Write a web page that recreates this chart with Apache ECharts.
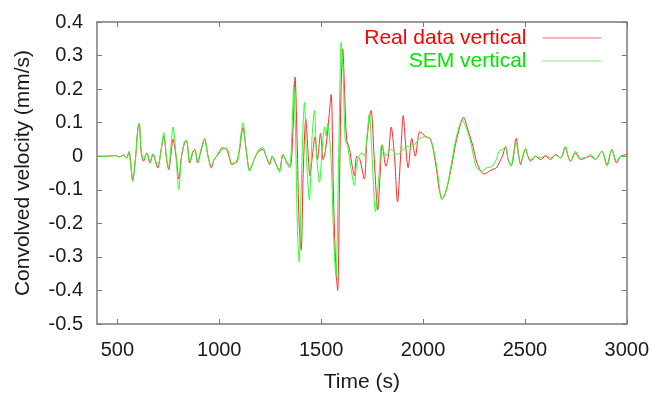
<!DOCTYPE html>
<html>
<head>
<meta charset="utf-8">
<script src="https://cdn.jsdelivr.net/npm/echarts@6/dist/echarts.min.js"></script>
<style>
html,body{margin:0;padding:0;background:#fff;}
#c{width:652px;height:398px;}
</style>
</head>
<body>
<div id="c"></div>
<script>
// ---- data ----
const xTicks = [500, 1000, 1500, 2000, 2500, 3000];
const yTicks = [-0.5, -0.4, -0.3, -0.2, -0.1, 0, 0.1, 0.2, 0.3, 0.4];
const seriesNames = ['Real data vertical', 'SEM vertical'];
const xTitle = 'Time (s)';
const yTitle = 'Convolved velocity (mm/s)';

// [time (s), velocity (mm/s)]
const realVertical = [
[400,0],[450,0],[490,0.002],[510,-0.002],[530,0.003],[545,-0.005],[557,0.012],[565,-0.02],[575,-0.07],[590,0.0],
[600,0.08],[607,0.097],[617,0.01],[628,-0.015],[645,0.01],[660,-0.02],[675,0.005],[698,-0.035],[715,0.02],[728,0.06],
[742,-0.01],[752,-0.04],[762,0.0],[773,0.05],[788,0.0],[801,-0.068],[815,0.0],[830,0.04],[839,0.045],[855,-0.02],
[870,0.01],[880,0.02],[894,-0.02],[910,0.015],[928,0.05],[945,0.0],[961,-0.035],[975,-0.01],[987,0.0],[1000,0.01],
[1012,0.025],[1035,0.02],[1050,-0.005],[1061,-0.025],[1085,-0.015],[1100,0.02],[1116,0.085],[1132,0.02],[1149,-0.04],[1165,-0.02],
[1178,0.0],[1195,0.015],[1214,0.02],[1230,0.0],[1247,-0.025],[1260,0.0],[1271,-0.015],[1296,-0.04],[1312,0.005],[1330,-0.015],
[1348,-0.03],[1362,0.08],[1372,0.236],[1382,0.05],[1392,-0.2],[1402,-0.28],[1412,-0.05],[1425,0.11],[1435,0.02],[1445,-0.058],
[1457,0.0],[1470,0.058],[1482,-0.01],[1497,0.068],[1510,-0.01],[1522,0.02],[1536,0.1],[1549,0.184],[1560,-0.1],[1570,-0.3],
[1581,-0.40],[1590,-0.1],[1598,0.2],[1606,0.32],[1615,0.2],[1625,0.05],[1640,0.02],[1650,-0.02],[1663,-0.058],[1675,0.0],
[1690,-0.01],[1712,-0.068],[1725,0.05],[1745,0.136],[1760,0.0],[1778,-0.16],[1790,-0.05],[1800,0.034],[1818,-0.03],[1830,0.0],
[1844,0.087],[1860,0.0],[1875,-0.136],[1890,0.0],[1903,0.121],[1915,0.03],[1927,-0.034],[1945,0.053],[1962,0.0],[1985,0.073],
[2014,0.058],[2038,0.05],[2064,-0.03],[2080,-0.1],[2095,-0.126],[2115,-0.1],[2140,-0.03],[2165,0.05],[2200,0.116],[2215,0.09],
[2230,0.06],[2245,0.03],[2265,-0.02],[2299,-0.053],[2338,-0.04],[2360,-0.035],[2373,-0.02],[2390,0.0],[2405,0.029],[2420,-0.015],
[2435,-0.025],[2457,0.053],[2470,0.0],[2479,-0.025],[2490,0.0],[2503,0.02],[2515,0.0],[2528,-0.015],[2552,0.0],[2577,-0.01],
[2601,0.0],[2626,-0.01],[2650,0.005],[2675,-0.005],[2699,0.025],[2712,0.0],[2724,-0.015],[2748,0.01],[2773,-0.01],[2797,-0.005],
[2822,0.0],[2846,-0.01],[2878,0.015],[2903,-0.025],[2927,0.02],[2950,-0.02],[2970,0.0],[3000,0.005]
];

const semVertical = [
[400,0],[450,0],[490,0.002],[510,-0.002],[530,0.003],[545,-0.005],[557,0.015],[565,-0.02],[575,-0.075],[590,0.0],
[600,0.08],[607,0.097],[617,0.02],[628,-0.01],[645,0.01],[660,-0.015],[675,0.008],[698,-0.03],[715,0.02],[728,0.07],
[742,-0.01],[752,-0.03],[762,0.02],[773,0.087],[788,0.0],[801,-0.10],[815,0.0],[830,0.045],[839,0.048],[855,-0.015],
[870,0.015],[880,0.02],[894,-0.015],[910,0.02],[928,0.053],[945,0.0],[961,-0.03],[975,-0.01],[987,0.0],[1000,0.015],
[1012,0.02],[1035,0.025],[1050,0.0],[1061,-0.02],[1085,-0.02],[1100,0.03],[1116,0.10],[1132,0.02],[1149,-0.045],[1165,-0.02],
[1178,0.0],[1195,0.02],[1214,0.025],[1230,0.0],[1247,-0.02],[1260,0.0],[1271,-0.01],[1296,-0.048],[1312,0.004],[1330,-0.02],
[1345,-0.035],[1357,0.08],[1366,0.213],[1375,0.05],[1383,-0.2],[1392,-0.315],[1402,-0.1],[1412,0.1],[1418,0.16],[1428,0.0],
[1442,-0.13],[1455,0.05],[1467,0.136],[1478,0.0],[1492,-0.078],[1505,0.02],[1517,0.087],[1524,0.06],[1532,0.097],[1548,0.0],
[1562,-0.25],[1573,-0.36],[1583,-0.1],[1592,0.2],[1598,0.339],[1608,0.25],[1618,0.05],[1630,0.03],[1645,-0.03],[1663,-0.087],
[1675,-0.02],[1687,0.0],[1700,0.01],[1712,0.0],[1725,0.06],[1736,0.126],[1750,0.0],[1767,-0.165],[1785,-0.05],[1798,0.034],
[1818,0.0],[1844,0.02],[1875,0.005],[1903,0.02],[1927,0.03],[1945,0.03],[1985,0.053],[2014,0.058],[2038,0.05],[2064,-0.02],
[2080,-0.09],[2092,-0.13],[2115,-0.1],[2140,-0.02],[2165,0.06],[2193,0.106],[2215,0.08],[2235,0.04],[2260,-0.03],[2290,-0.045],
[2310,-0.035],[2338,-0.03],[2360,-0.01],[2373,0.015],[2390,0.02],[2405,0.027],[2418,-0.01],[2432,-0.03],[2445,0.01],[2457,0.04],
[2470,0.0],[2479,-0.02],[2490,0.0],[2503,0.024],[2515,0.0],[2528,-0.01],[2552,0.0],[2577,-0.005],[2601,0.003],[2626,-0.005],
[2650,0.003],[2675,-0.005],[2699,0.03],[2712,0.0],[2724,-0.015],[2748,0.015],[2773,-0.005],[2797,-0.005],[2822,0.005],[2846,-0.01],
[2878,0.015],[2903,-0.03],[2927,0.02],[2950,-0.015],[2970,0.0],[3000,0.0]
];

// ---- chart ----
const FONT = 'Liberation Sans, Arial, Helvetica, sans-serif';
const AXIS_COLOR = '#7a7a7a';
const TEXT_COLOR = '#1a1a1a';
const RED = '#ff2a2a';
const GREEN = '#2aff2a';

function fmtY(v) { return String(Number(v.toFixed(1))); }
function fmtX(v) { return String(Math.round(v)); }

function xAxisCfg(pos, primary) {
  return {
    type: 'value', position: pos, min: 400, max: 3000,
    axisLine: { show: true, onZero: false, lineStyle: { color: AXIS_COLOR, width: 1.5 } },
    axisTick: { show: true, inside: true, length: 5, customValues: xTicks, lineStyle: { color: AXIS_COLOR, width: 1 } },
    axisLabel: primary ? { show: true, customValues: xTicks, margin: 16, fontSize: 20, color: TEXT_COLOR, fontFamily: FONT, formatter: fmtX } : { show: false },
    splitLine: { show: false },
    name: primary ? xTitle : '',
    nameLocation: 'middle', nameGap: 48,
    nameTextStyle: { fontSize: 21, color: TEXT_COLOR, fontFamily: FONT }
  };
}
function yAxisCfg(pos, primary) {
  return {
    type: 'value', position: pos, min: -0.5, max: 0.4,
    axisLine: { show: true, onZero: false, lineStyle: { color: AXIS_COLOR, width: 1.5 } },
    axisTick: { show: true, inside: true, length: 5, customValues: yTicks, lineStyle: { color: AXIS_COLOR, width: 1 } },
    axisLabel: primary ? { show: true, customValues: yTicks, margin: 14, fontSize: 20, color: TEXT_COLOR, fontFamily: FONT, formatter: fmtY } : { show: false },
    splitLine: { show: false },
    name: primary ? yTitle : '',
    nameLocation: 'middle', nameGap: 63, nameRotate: 90,
    nameTextStyle: { fontSize: 21, color: TEXT_COLOR, fontFamily: FONT }
  };
}

const chart = echarts.init(document.getElementById('c'), null, { renderer: 'canvas' });
chart.setOption({
  animation: false,
  backgroundColor: '#ffffff',
  grid: { left: 97, right: 24, top: 22, bottom: 66, containLabel: false },
  xAxis: [xAxisCfg('bottom', true), xAxisCfg('top', false)],
  yAxis: [yAxisCfg('left', true), yAxisCfg('right', false)],
  legend: {
    orient: 'vertical', align: 'right', right: 45, top: 22.5,
    itemWidth: 59, itemHeight: 14, itemGap: 2,
    selectedMode: false,
    itemStyle: { opacity: 0 },
    lineStyle: { width: 1 },
    textStyle: { fontSize: 21, fontFamily: FONT, padding: [0, 11, 0, 0] },
    data: [
      { name: seriesNames[0], textStyle: { color: '#ff0000' }, lineStyle: { color: '#ff6a6a', width: 1 } },
      { name: seriesNames[1], textStyle: { color: '#00e600' }, lineStyle: { color: '#6aff6a', width: 1 } }
    ]
  },
  series: [
    {
      name: seriesNames[0], type: 'line', data: realVertical,
      xAxisIndex: 0, yAxisIndex: 0,
      symbol: 'none', smooth: 0.3,
      lineStyle: { color: RED, width: 1 }, itemStyle: { color: RED }
    },
    {
      name: seriesNames[1], type: 'line', data: semVertical,
      xAxisIndex: 0, yAxisIndex: 0,
      symbol: 'none', smooth: 0.3,
      lineStyle: { color: GREEN, width: 1 }, itemStyle: { color: GREEN }
    }
  ]
});
</script>
</body>
</html>
